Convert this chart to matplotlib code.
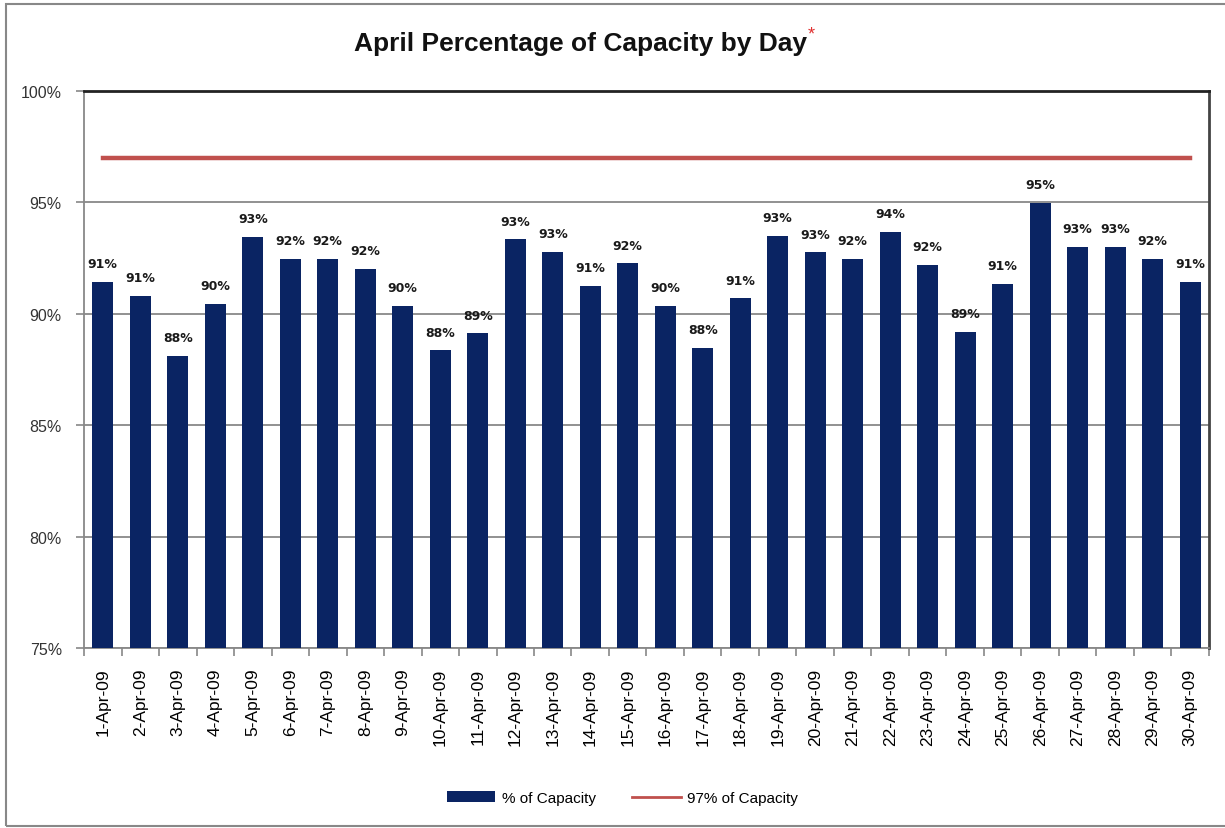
import matplotlib.pyplot as plt
from matplotlib.patches import Rectangle
from matplotlib.ticker import FuncFormatter, MultipleLocator

# data
days = [f'{d}-Apr-09' for d in range(1, 31)]
capacity = [91.42, 90.78, 88.09, 90.43, 93.44, 92.45, 92.45, 92.01, 90.36, 88.35,
            89.11, 93.33, 92.76, 91.26, 92.25, 90.34, 88.45, 90.68, 93.48, 92.75,
            92.45, 93.68, 92.18, 89.17, 91.33, 94.95, 93.00, 93.00, 92.45, 91.41]
target = 97

bar_color = '#0A2463'
line_color = '#C0504D'
arial = ['Liberation Sans', 'DejaVu Sans']

fig = plt.figure(figsize=(12.25, 8.29), dpi=100)
ax = fig.add_axes([0.0686, 0.2171, 0.9183, 0.6723])

x = list(range(len(days)))
bars = ax.bar(x, capacity, width=0.56, color=bar_color, label='% of Capacity', zorder=3)
line, = ax.plot([x[0], x[-1]], [target, target], color=line_color, lw=3.2,
                label='97% of Capacity', zorder=4)

# value labels above bars
for xi, v in zip(x, capacity):
    ax.annotate(f'{round(v):d}%', (xi, v), xytext=(0, 8.5), textcoords='offset points',
                ha='center', va='bottom', fontsize=9, fontweight='bold',
                family='DejaVu Sans', color='#1a1a1a')

ax.set_xlim(-0.5, len(days) - 0.5)
ax.set_ylim(75, 100)
ax.yaxis.set_major_locator(MultipleLocator(5))
ax.yaxis.set_major_formatter(FuncFormatter(lambda v, p: f'{v:.0f}%'))
ax.grid(axis='y', color='#888888', lw=1.3, zorder=0)

ax.set_xticks(x)
ax.set_xticklabels(days, rotation=90, fontsize=12.5, family=arial)
ax.set_xticks([i - 0.5 for i in range(len(days) + 1)], minor=True)
ax.tick_params(axis='x', which='major', length=0, pad=14)
ax.tick_params(axis='x', which='minor', length=6, color='#888888', width=1.2)
ax.tick_params(axis='y', length=6, color='#888888', width=1.2, pad=10, labelsize=11.5)
for lab in ax.get_yticklabels():
    lab.set_family(arial)
    lab.set_color('#333333')

ax.spines['left'].set_color('#888888')
ax.spines['bottom'].set_color('#888888')
ax.spines['left'].set_linewidth(1.3)
ax.spines['bottom'].set_linewidth(1.3)
ax.spines['top'].set_color('#222222')
ax.spines['right'].set_color('#444444')
ax.spines['top'].set_linewidth(2)
ax.spines['right'].set_linewidth(2)

# title with red asterisk
t = fig.text(0.4735, 0.947, 'April Percentage of Capacity by Day', ha='center', va='center',
             fontsize=19, fontweight='bold', family=arial, color='#111111')
fig.canvas.draw()
bb = t.get_window_extent()
fig.text(bb.x1 / fig.bbox.width + 0.001, 0.958, '*', ha='left', va='center',
         fontsize=13, color='#E03030', family=arial)

leg = fig.legend([bars, line], ['% of Capacity', '97% of Capacity'], loc='center',
                 bbox_to_anchor=(0.508, 0.036), ncol=2, frameon=False,
                 prop={'family': arial, 'size': 11}, handlelength=3.2, handleheight=0.7,
                 columnspacing=2.4, handletextpad=0.4)
leg.get_lines()[0].set_linewidth(2)

# outer chart border
fig.patches.append(Rectangle((0.005, 0.003), 1.2, 0.991, transform=fig.transFigure,
                             fill=False, edgecolor='#888888', lw=1.5))

fig.savefig('out.png', dpi=100)
